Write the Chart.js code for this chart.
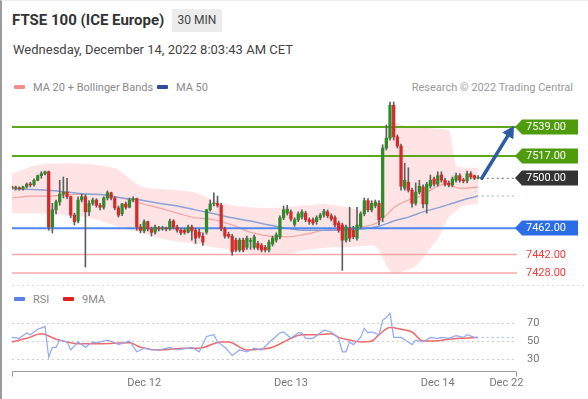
<!DOCTYPE html>
<html>
<head>
<meta charset="utf-8">
<script src="https://cdn.jsdelivr.net/npm/chart.js@4.4.1/dist/chart.umd.min.js"></script>
<style>
  html, body { margin: 0; padding: 0; background: #fff; }
  body { width: 588px; height: 399px; position: relative; overflow: hidden; font-family: Roboto, "Liberation Sans", Arial, sans-serif; }
  .frame { position: absolute; left: 0; top: 0; width: 586px; height: 398px; border-left: 2px solid #9b9b9b; border-top: 1px solid #eeeeee; }
  .title { position: absolute; left: 12px; top: 10px; font-size: 15px; font-weight: bold; color: #333; line-height: 20px; }
  .badge { position: absolute; left: 172px; top: 9px; width: 50px; height: 23px; line-height: 23px; text-align: center; background: #ececec; color: #444; font-size: 12px; }
  .date { position: absolute; left: 13px; top: 42px; font-size: 13px; color: #444; line-height: 16px; }
  .legend { position: absolute; top: 82px; font-size: 11px; color: #8a8a8a; line-height: 12px; white-space: nowrap; }
  .sw { display: inline-block; width: 11px; height: 4px; vertical-align: middle; margin-right: 8px; position: relative; top: -1px; border-radius: 1px; }
  .credit { position: absolute; right: 15px; top: 82px; font-size: 11px; color: #9a9a9a; line-height: 12px; }
  #price { position: absolute; left: 0; top: 95px; }
  #rsi { position: absolute; left: 0; top: 290px; }
</style>
</head>
<body>
<div class="frame"></div>
<div class="title">FTSE 100 (ICE Europe)</div>
<div class="badge">30 MIN</div>
<div class="date">Wednesday, December 14, 2022 8:03:43 AM CET</div>
<div class="legend" style="left:14px"><span class="sw" style="background:#f58d8d"></span>MA 20 + Bollinger Bands</div>
<div class="legend" style="left:157px"><span class="sw" style="background:#2b4f9e"></span>MA 50</div>
<div class="credit">Research © 2022 Trading Central</div>
<div class="legend" style="left:14px; top:294px"><span class="sw" style="background:#5b7fe6"></span>RSI</div>
<div class="legend" style="left:63px; top:294px"><span class="sw" style="background:#e41e1e"></span>9MA</div>
<canvas id="price" width="588" height="195"></canvas>
<canvas id="rsi" width="588" height="109"></canvas>
<script>
// 30 min candles, index 0 = first bar on the left
const opens = [7493.5,7492.5,7492.5,7492,7493.5,7495.5,7495,7498.5,7502,7503.5,
  7505,7463,7476,7482,7488,7489.5,7486,7472,7467.5,7483.5,
  7486,7474.5,7481,7483.5,7479.5,7478,7485,7489,7485,7477.5,
  7473,7480.5,7478,7483.5,7484.5,7463,7460,7467,7461.5,7459,
  7462,7461.5,7462,7461.5,7467.5,7463,7460.5,7460.5,7459,7463,
  7460.5,7459,7456,7459,7476,7480.5,7481,7479.5,7461.5,7457.5,
  7456,7453,7445.5,7453,7447.5,7452,7447.5,7450.5,7449,7447.5,
  7445.5,7450,7453,7455.5,7470,7473.5,7474.5,7465,7468.5,7470.5,
  7473.5,7468.5,7468.5,7467,7470,7472,7474.5,7471.5,7470,7466,
  7464.5,7453,7462,7460.5,7454.5,7463.5,7473,7483,7476,7479,
  7481,7470,7523,7530.5,7555.5,7531.5,7524.5,7492.5,7497,7491,
  7481,7489.5,7493.5,7480.5,7494,7499.5,7495.5,7502.5,7498.5,7496.5,
  7495,7498.5,7502,7498.5,7498,7503.5,7502,7500];
const highs = [7494,7494,7493.5,7494,7496.5,7497,7499.5,7502.5,7505,7505.5,
  7505.5,7481,7483.5,7498.5,7501,7500,7486.5,7473.5,7486,7488,
  7487.5,7483,7485,7484.5,7481,7486,7490.5,7489.5,7486,7479,
  7481,7482,7485,7486,7485,7465,7468.5,7467.5,7463,7464.5,
  7463.5,7463.5,7463,7469,7468.5,7464.5,7462,7462,7464.5,7464.5,
  7462,7461.5,7458.5,7476.5,7483.5,7489,7486.5,7481,7463,7459,
  7457.5,7454.5,7454.5,7454.5,7456,7454.5,7457,7452,7450.5,7449,
  7453,7456,7458.5,7471.5,7479,7479.5,7476,7470,7474.5,7476,
  7475,7470,7470,7471.5,7473.5,7476.5,7476,7473,7471.5,7467.5,
  7466,7464.5,7478,7463.5,7478,7474.5,7485,7484.5,7483,7483.5,
  7483,7525.5,7540.5,7558,7558,7533,7526,7511.5,7508,7492.5,
  7496.5,7498.5,7495,7497,7502.5,7501,7505,7505,7500,7498,
  7501,7504,7503.5,7500,7505.5,7505,7502.5,7502];
const lows = [7492,7491,7491,7491,7492.5,7493.5,7494,7498,7500,7502.5,
  7460.5,7458.5,7473,7479.5,7485,7484.5,7470,7464.5,7466,7482,
  7432.5,7471.5,7479.5,7478,7476,7476.5,7483.5,7483.5,7476,7470.5,
  7471.5,7476.5,7477.5,7482,7460.5,7458.5,7458.5,7460,7456,7457.5,
  7460,7460.5,7460,7460.5,7461.5,7459,7457,7457.5,7458.5,7453,
  7450.5,7454.5,7449,7457.5,7475,7479,7478,7460,7454.5,7454.5,
  7441.5,7444,7444,7444,7446,7446,7446,7445.5,7444,7444,
  7444,7448.5,7451.5,7454,7468.5,7472,7467.5,7463.5,7467,7469,
  7467,7465,7464.5,7465,7468.5,7470.5,7470,7467.5,7463,7459,
  7430,7451.5,7452,7454,7453,7462,7471.5,7474.5,7474.5,7477.5,
  7464.5,7467,7521.5,7529,7529,7523,7491,7491,7489.5,7478,
  7479.5,7488,7477.5,7473.5,7492.5,7494,7494,7497,7494,7493.5,
  7493.5,7497,7497,7496.5,7496.5,7499.5,7499,7499.5];
const closes = [7492.5,7492.5,7492,7493.5,7495.5,7495,7498.5,7502,7503.5,7505,
  7463,7476,7482,7488,7489.5,7486,7472,7467,7483.5,7486,
  7474.5,7481,7483.5,7479.5,7478,7485,7489,7485,7477.5,7472,
  7480.5,7478,7483.5,7484.5,7463,7460.5,7467,7461.5,7459,7463,
  7461.5,7462,7461.5,7467.5,7463,7460.5,7458.5,7459,7463,7460,
  7454.5,7456,7451.5,7476,7480.5,7481,7479.5,7461.5,7456,7456,
  7444,7445.5,7453,7445.5,7454.5,7452,7455.5,7447,7445.5,7445.5,
  7451.5,7454.5,7457,7470,7476,7476.5,7469,7468.5,7473,7474.5,
  7468.5,7467,7466,7470,7472,7475,7471.5,7469,7464.5,7460.5,
  7453,7463,7454.5,7455.5,7464.5,7473,7483,7476,7481,7482,
  7468.5,7523,7530.5,7555.5,7531.5,7524.5,7494,7498.5,7491,7481,
  7489.5,7494,7480.5,7495.5,7498.5,7495.5,7502,7498.5,7495.5,7495,
  7499.5,7502,7498.5,7498,7503.5,7501,7500,7500];

// MA 20 + Bollinger Bands, MA 50 (bar index, price)
const bandX = [0,3,6,10,15,20,25,29,32,35,40,45,50,55,60,65,70,75,80,85,88,92,95,98,100,101,102,103,104,106,110,114,117,119,121,122,124,127];
const bandUpper = [7503.5,7506.5,7509.5,7511,7511.5,7511,7509.5,7506.5,7500,7494,
  7492,7491,7489,7483.5,7479.5,7478,7477.5,7478,7479.5,7480.5,
  7479.5,7477.5,7476,7476,7479.5,7514,7536.5,7542,7543,7540.5,
  7539,7538,7537.5,7536.5,7510,7508.5,7508,7508];
const bandLower = [7473.5,7473.5,7473.5,7473,7472,7470.5,7467,7463,7460.5,7459,
  7454.5,7452,7450.5,7447.5,7445.5,7443,7441.5,7442.5,7445.5,7447,
  7447.5,7447.5,7448.5,7449,7445.5,7440,7434,7430,7428,7429,
  7433.5,7447,7459,7470.5,7475,7478,7479.5,7481];
const ma20X = [0,5,10,15,20,25,30,35,40,45,50,55,60,65,70,75,80,85,90,95,98,100,102,104,106,108,110,112,114,116,118,120,122,124,127];
const ma20Y = [7485,7486.5,7486.5,7487.5,7488,7487.5,7485,7481,7477.5,7473.5,
  7470,7468.5,7464.5,7459,7456,7455.5,7457.5,7460.5,7462,7463,
  7464.5,7467,7472,7477.5,7481,7483.5,7485,7487.5,7491,7494,
  7495.5,7494,7492.5,7492.5,7493.5];
const ma50X = [0,10,15,20,25,30,35,40,45,50,55,60,65,70,75,80,85,90,95,100,104,108,112,116,120,124,127];
const ma50Y = [7492,7491,7489.5,7488,7487.5,7485,7483.5,7481,7479,7476,
  7473,7470,7467.5,7464.5,7462,7460.5,7460.5,7460.5,7461.5,7463.5,
  7467.5,7470.5,7474.5,7477.5,7481,7484.5,7486.5];

// levels
const resistances = [7539, 7517];
const pivot = 7500;
const supports = [7462];
const minorSupports = [7442, 7428];
const arrowFrom = [128, 7500];
const arrowTo = [136.8, 7540];

// RSI pane
const rsiX = [0,2,4,5,7,9,10,11,12,13,15,16,18,19,20,22,23,26,28,29,32,34,36,38,40,43,45,48,49,51,53,55,56,58,60,62,64,66,68,70,73,74,76,78,79,80,82,85,87,89,90,91,92,93,95,96,97,98,100,101,102,103,104,106,108,109,110,112,114,116,117,119,121,123,124,126,127];
const rsiY = [54,53,59,57,63,66,32,43,43,51,49,40,49,46,43,49,48,51,48,46,50,38,42,40,40,43,40,42,43,38,55,57,49,43,34,40,38,42,40,48,59,60,53,59,59,53,53,62,60,53,38,38,49,46,54,64,59,60,57,73,76,81,54,54,49,46,51,49,54,53,54,53,56,54,57,54,54];
const ma9X = [0,4,8,12,15,18,24,32,35,40,47,51,57,59,64,68,71,75,79,83,87,89,92,95,98,100,103,106,109,112,115,119,122,127];
const ma9Y = [49,53,58,52,49,47,47,48,43,40,42,42,49,49,40,41,43,51,57,57,58,54,51,49,50,57,65,63,60,50,50,52,53,54];
const rsiLevels = [70, 50, 30];

// time axis
const dayTicks = [36, 76, 116, 134.7];
const dayLabels = ['Dec 12', 'Dec 13', 'Dec 14', 'Dec 22'];
const X_MAX = 137.6;

const GREEN = '#2f8a2a', RED = '#d42a2a';
const FONT = 'Roboto, "Liberation Sans", Arial, sans-serif';

function pts(xs, ys) { return xs.map((v, i) => ({ x: v, y: ys[i] })); }
function flat(v, from, to) { return [{ x: from, y: v }, { x: to, y: v }]; }
function levelLine(v, color, width) {
  return { type: 'line', data: flat(v, 0, X_MAX), borderColor: color, borderWidth: width, pointRadius: 0, order: 6 };
}

const bodies = opens.map((o, i) => ({ x: i, y: [o, closes[i]] }));
const wicks = lows.map((l, i) => ({ x: i, y: [l, highs[i]] }));
const upDown = opens.map((o, i) => closes[i] >= o ? GREEN : RED);

const overlay = {
  id: 'overlay',
  afterDatasetsDraw(chart) {
    const { ctx, chartArea, scales: { x, y } } = chart;
    ctx.save();
    // pane separator
    ctx.strokeStyle = '#dcdcdc';
    ctx.lineWidth = 1;
    ctx.setLineDash([2, 3]);
    ctx.beginPath();
    ctx.moveTo(chartArea.left, chartArea.bottom + 0.5);
    ctx.lineTo(chart.width - 2, chartArea.bottom + 0.5);
    ctx.stroke();
    ctx.setLineDash([]);

    // projection arrow
    const x0 = x.getPixelForValue(arrowFrom[0]), y0 = y.getPixelForValue(arrowFrom[1]);
    const x1 = x.getPixelForValue(arrowTo[0]), y1 = y.getPixelForValue(arrowTo[1]);
    const a = Math.atan2(y1 - y0, x1 - x0);
    const hl = 12, hw = 6.5;
    const bx = x1 - hl * Math.cos(a), by = y1 - hl * Math.sin(a);
    ctx.strokeStyle = '#2c5ca6';
    ctx.fillStyle = '#2c5ca6';
    ctx.lineWidth = 3.5;
    ctx.lineCap = 'round';
    ctx.beginPath(); ctx.moveTo(x0, y0); ctx.lineTo(bx, by); ctx.stroke();
    ctx.beginPath();
    ctx.moveTo(x1, y1);
    ctx.lineTo(bx + hw * Math.sin(a), by - hw * Math.cos(a));
    ctx.lineTo(bx - hw * Math.sin(a), by + hw * Math.cos(a));
    ctx.closePath(); ctx.fill();

    // price tags
    const tags = [
      ...resistances.map(v => [v, '#4e9c0c']),
      [pivot, '#333333'],
      ...supports.map(v => [v, '#2b6de6'])
    ];
    ctx.font = '11px ' + FONT;
    ctx.textBaseline = 'middle';
    tags.forEach(([v, bg]) => {
      const py = Math.round(y.getPixelForValue(v));
      ctx.fillStyle = bg;
      ctx.beginPath();
      ctx.moveTo(515, py);
      ctx.lineTo(522, py - 7.5);
      ctx.lineTo(578, py - 7.5);
      ctx.lineTo(578, py + 7.5);
      ctx.lineTo(522, py + 7.5);
      ctx.closePath(); ctx.fill();
      ctx.fillStyle = '#fff';
      ctx.fillText(v.toFixed(2), 526, py + 0.5);
    });
    minorSupports.forEach(v => {
      const py = Math.round(y.getPixelForValue(v));
      ctx.fillStyle = '#f0393a';
      ctx.fillText(v.toFixed(2), 526, py + 0.5);
    });
    ctx.restore();
  }
};

new Chart(document.getElementById('price').getContext('2d'), {
  type: 'bar',
  data: {
    datasets: [
      { type: 'line', data: pts(bandX, bandUpper), borderWidth: 0, borderColor: 'rgba(0,0,0,0)', backgroundColor: 'rgba(246,90,90,0.16)', fill: '+1', pointRadius: 0, cubicInterpolationMode: 'monotone', order: 10 },
      { type: 'line', data: pts(bandX, bandLower), borderWidth: 0, borderColor: 'rgba(0,0,0,0)', fill: false, pointRadius: 0, cubicInterpolationMode: 'monotone', order: 10 },
      { type: 'line', data: pts(ma50X, ma50Y), borderColor: '#8aa2d4', borderWidth: 1.5, pointRadius: 0, cubicInterpolationMode: 'monotone', order: 8 },
      { type: 'line', data: pts(ma20X, ma20Y), borderColor: '#f4a0a0', borderWidth: 1.2, pointRadius: 0, cubicInterpolationMode: 'monotone', order: 8 },
      levelLine(resistances[0], '#5ea81c', 2),
      levelLine(resistances[1], '#5ea81c', 2),
      levelLine(supports[0], '#5088f2', 2),
      levelLine(minorSupports[0], '#f6a8a8', 1.5),
      levelLine(minorSupports[1], '#f6a8a8', 1.5),
      { type: 'line', data: flat(pivot, 128, 137), borderColor: '#666', borderWidth: 1, borderDash: [2, 3], pointRadius: 0, order: 6 },
      { type: 'line', data: flat(ma50Y[ma50Y.length - 1], 128, 137), borderColor: '#8aa8e8', borderWidth: 1, borderDash: [2, 3], pointRadius: 0, order: 6 },
      { data: wicks, backgroundColor: '#606060', barThickness: 1, grouped: false, order: 3 },
      { data: bodies, backgroundColor: upDown, barThickness: 2.6, minBarLength: 1, grouped: false, order: 2 }
    ]
  },
  options: {
    responsive: false,
    animation: false,
    devicePixelRatio: 1,
    layout: { padding: { left: 12, right: 71, top: 5, bottom: 5 } },
    plugins: { legend: { display: false }, tooltip: { enabled: false } },
    scales: {
      x: { type: 'linear', display: false, min: 0, max: X_MAX, offset: false },
      y: { type: 'linear', display: false, min: 7418.9, max: 7559.5 }
    }
  },
  plugins: [overlay]
});

const rsiAxes = {
  id: 'rsiAxes',
  beforeDatasetsDraw(chart) {
    const { ctx, chartArea, scales: { y } } = chart;
    ctx.save();
    ctx.strokeStyle = '#cfcfcf';
    ctx.lineWidth = 1;
    ctx.setLineDash([2, 3]);
    rsiLevels.forEach(v => {
      const py = Math.round(y.getPixelForValue(v)) + 0.5;
      ctx.beginPath(); ctx.moveTo(chartArea.left, py); ctx.lineTo(chartArea.right, py); ctx.stroke();
    });
    ctx.restore();
  },
  afterDatasetsDraw(chart) {
    const { ctx, chartArea, scales: { x, y } } = chart;
    ctx.save();
    ctx.font = '11px ' + FONT;
    ctx.fillStyle = '#777';
    ctx.textBaseline = 'middle';
    rsiLevels.forEach(v => ctx.fillText(String(v), 527, y.getPixelForValue(v)));
    // time axis
    const by = chartArea.bottom + 0.5;
    ctx.strokeStyle = '#9a9a9a';
    ctx.lineWidth = 1;
    ctx.beginPath();
    ctx.moveTo(chartArea.left + 0.5, by + 5); ctx.lineTo(chartArea.left + 0.5, by);
    ctx.lineTo(chartArea.right - 0.5, by); ctx.lineTo(chartArea.right - 0.5, by + 5);
    ctx.stroke();
    ctx.textAlign = 'center';
    ctx.textBaseline = 'top';
    dayTicks.forEach((t, i) => ctx.fillText(dayLabels[i], x.getPixelForValue(t), by + 6));
    ctx.restore();
  }
};

new Chart(document.getElementById('rsi').getContext('2d'), {
  type: 'line',
  data: {
    datasets: [
      { data: pts(rsiX, rsiY), borderColor: '#8fa9f4', borderWidth: 1.2, pointRadius: 0, tension: 0 },
      { data: pts(ma9X, ma9Y), borderColor: '#f06a6a', borderWidth: 1.5, pointRadius: 0, cubicInterpolationMode: 'monotone' },
      { data: flat(rsiY[rsiY.length - 1], 128, X_MAX), borderColor: '#9fb4f0', borderWidth: 1, borderDash: [2, 3], pointRadius: 0 }
    ]
  },
  options: {
    responsive: false,
    animation: false,
    devicePixelRatio: 1,
    layout: { padding: { left: 12, right: 71, top: 20, bottom: 28 } },
    plugins: { legend: { display: false }, tooltip: { enabled: false } },
    scales: {
      x: { type: 'linear', display: false, min: 0, max: X_MAX },
      y: { type: 'linear', display: false, min: 16.67, max: 84.44 }
    }
  },
  plugins: [rsiAxes]
});
</script>
</body>
</html>
